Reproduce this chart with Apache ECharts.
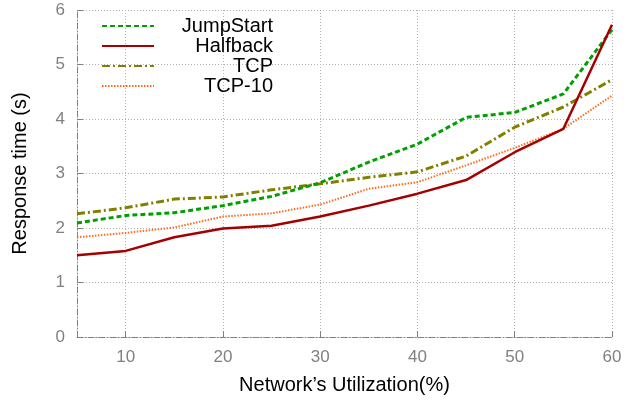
<!DOCTYPE html>
<html>
<head>
<meta charset="utf-8">
<script src="https://cdn.jsdelivr.net/npm/echarts@6/dist/echarts.min.js"></script>
<style>
html,body{margin:0;padding:0;background:#fff;}
#chart{width:639px;height:400px;}
</style>
</head>
<body>
<div id="chart"></div>
<script>
const utilization = [5, 10, 15, 20, 25, 30, 35, 40, 45, 50, 55, 60];
const jumpStart = [2.09, 2.23, 2.28, 2.41, 2.58, 2.83, 3.21, 3.54, 4.03, 4.12, 4.46, 5.64];
const halfback  = [1.50, 1.58, 1.83, 1.99, 2.04, 2.21, 2.41, 2.63, 2.88, 3.39, 3.82, 5.73];
const tcp       = [2.26, 2.37, 2.53, 2.57, 2.70, 2.81, 2.93, 3.03, 3.32, 3.85, 4.22, 4.72];
const tcp10     = [1.83, 1.91, 2.01, 2.21, 2.27, 2.43, 2.72, 2.84, 3.15, 3.47, 3.82, 4.43];
const xTicks = [10, 20, 30, 40, 50, 60];
const seriesNames = ['JumpStart', 'Halfback', 'TCP', 'TCP-10'];

const pairs = arr => utilization.map((x, i) => [x, arr[i]]);
const font = 'Liberation Sans, Arial, Helvetica, sans-serif';

const chart = echarts.init(document.getElementById('chart'), null, {renderer: 'canvas'});
chart.setOption({
  animation: false,
  backgroundColor: '#ffffff',
  grid: {left: 77, right: 27, top: 10, bottom: 63, containLabel: false},
  legend: {
    left: 101, top: 16, orient: 'vertical', padding: 0,
    itemWidth: 52, itemHeight: 14, itemGap: 0,
    data: seriesNames,
    itemStyle: {opacity: 0},
    formatter: n => '{a|' + n + '}',
    textStyle: {
      fontFamily: font, fontSize: 20, color: '#000',
      rich: {a: {width: 114, height: 20, lineHeight: 20, align: 'right', fontFamily: font, fontSize: 20, color: '#000'}}
    }
  },
  xAxis: {
    type: 'value', min: 5, max: 60,
    name: 'Network\u2019s Utilization(%)', nameLocation: 'middle', nameGap: 38,
    nameTextStyle: {fontFamily: font, fontSize: 20, color: '#000'},
    axisLine: {show: true, onZero: false, lineStyle: {color: '#808080', width: 1, type: [6, 2, 1, 2]}},
    axisTick: {show: true, inside: true, length: 6, customValues: xTicks, lineStyle: {color: '#808080'}},
    axisLabel: {customValues: xTicks, fontFamily: font, fontSize: 17, color: '#808080', margin: 12},
    splitLine: {show: true, lineStyle: {color: '#b4b4b4', width: 1, type: [1, 2]}}
  },
  yAxis: {
    type: 'value', min: 0, max: 6, interval: 1,
    name: 'Response time (s)', nameLocation: 'middle', nameGap: 47,
    nameTextStyle: {fontFamily: font, fontSize: 20, color: '#000'},
    axisLine: {show: true, lineStyle: {color: '#808080', width: 1, type: [6, 2, 1, 2]}},
    axisTick: {show: true, inside: true, length: 6, lineStyle: {color: '#808080'}},
    axisLabel: {fontFamily: font, fontSize: 17, color: '#808080', margin: 12},
    splitLine: {show: true, lineStyle: {color: '#b4b4b4', width: 1, type: [1, 2]}}
  },
  series: [
    {name: 'JumpStart', type: 'line', data: pairs(jumpStart), symbol: 'none', z: 4,
     itemStyle: {color: '#00a000'},
     lineStyle: {color: '#00a000', width: 3, type: [5, 3]}},
    {name: 'Halfback', type: 'line', data: pairs(halfback), symbol: 'none', z: 5,
     itemStyle: {color: '#a50000'},
     lineStyle: {color: '#a50000', width: 2.5, type: 'solid'}},
    {name: 'TCP', type: 'line', data: pairs(tcp), symbol: 'none', z: 3,
     itemStyle: {color: '#808000'},
     lineStyle: {color: '#808000', width: 3, type: [8, 3, 2, 3]}},
    {name: 'TCP-10', type: 'line', data: pairs(tcp10), symbol: 'none', z: 2,
     itemStyle: {color: '#ff6a1a'},
     lineStyle: {color: '#ff6a1a', width: 2, type: [1.5, 1.5]}}
  ]
});
</script>
</body>
</html>
